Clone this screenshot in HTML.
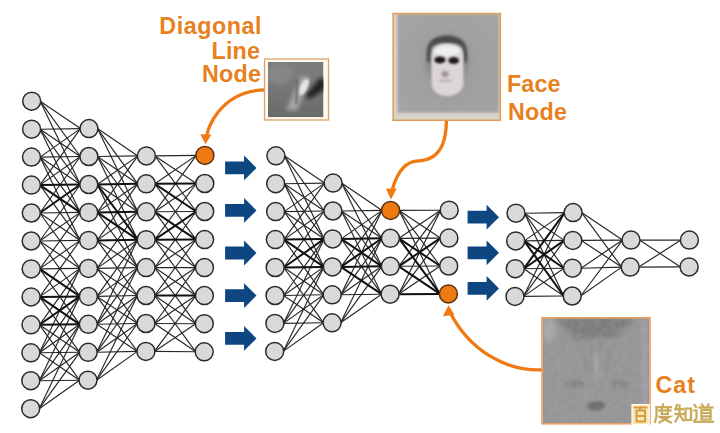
<!DOCTYPE html>
<html><head><meta charset="utf-8"><style>
html,body{margin:0;padding:0;background:#fff;}
body{width:720px;height:433px;overflow:hidden;}
svg{display:block;}
</style></head><body>
<svg width="720" height="433" viewBox="0 0 720 433">
<rect width="720" height="433" fill="#fff"/>
<g stroke="#262626" stroke-width="1.15" fill="none">
<line x1="40.2" y1="101.2" x2="80.5" y2="128.6"/>
<line x1="40.2" y1="101.2" x2="80.4" y2="156.5"/>
<line x1="40.2" y1="101.2" x2="80.3" y2="184.5"/>
<line x1="40.1" y1="129.2" x2="80.5" y2="128.6"/>
<line x1="40.1" y1="129.2" x2="80.4" y2="156.5"/>
<line x1="40.1" y1="129.2" x2="80.3" y2="184.5"/>
<line x1="40.1" y1="129.2" x2="80.2" y2="212.4"/>
<line x1="40.0" y1="157.1" x2="80.5" y2="128.6"/>
<line x1="40.0" y1="157.1" x2="80.4" y2="156.5"/>
<line x1="40.0" y1="157.1" x2="80.3" y2="184.5"/>
<line x1="40.0" y1="157.1" x2="80.2" y2="212.4"/>
<line x1="40.0" y1="157.1" x2="80.1" y2="240.4"/>
<line x1="39.9" y1="185.1" x2="80.5" y2="128.6"/>
<line x1="39.9" y1="185.1" x2="80.4" y2="156.5"/>
<line x1="39.9" y1="185.1" x2="80.1" y2="240.4"/>
<line x1="39.8" y1="213.0" x2="80.4" y2="156.5"/>
<line x1="39.8" y1="213.0" x2="80.2" y2="212.4"/>
<line x1="39.8" y1="213.0" x2="80.1" y2="240.4"/>
<line x1="39.8" y1="213.0" x2="80.0" y2="268.4"/>
<line x1="39.7" y1="241.0" x2="80.3" y2="184.5"/>
<line x1="39.7" y1="241.0" x2="80.2" y2="212.4"/>
<line x1="39.7" y1="241.0" x2="80.1" y2="240.4"/>
<line x1="39.7" y1="241.0" x2="80.0" y2="268.4"/>
<line x1="39.7" y1="241.0" x2="79.9" y2="296.4"/>
<line x1="39.7" y1="268.9" x2="80.2" y2="212.4"/>
<line x1="39.7" y1="268.9" x2="80.1" y2="240.4"/>
<line x1="39.7" y1="268.9" x2="80.0" y2="268.4"/>
<line x1="39.7" y1="268.9" x2="79.8" y2="324.3"/>
<line x1="39.6" y1="296.9" x2="80.1" y2="240.4"/>
<line x1="39.6" y1="296.9" x2="80.0" y2="268.4"/>
<line x1="39.6" y1="296.9" x2="79.7" y2="352.3"/>
<line x1="39.5" y1="324.8" x2="80.0" y2="268.4"/>
<line x1="39.5" y1="324.8" x2="79.7" y2="352.3"/>
<line x1="39.5" y1="324.8" x2="79.5" y2="380.2"/>
<line x1="39.4" y1="352.8" x2="80.0" y2="268.4"/>
<line x1="39.4" y1="352.8" x2="79.9" y2="296.4"/>
<line x1="39.4" y1="352.8" x2="79.8" y2="324.3"/>
<line x1="39.4" y1="352.8" x2="79.7" y2="352.3"/>
<line x1="39.4" y1="352.8" x2="79.5" y2="380.2"/>
<line x1="39.3" y1="380.7" x2="79.9" y2="296.4"/>
<line x1="39.3" y1="380.7" x2="79.8" y2="324.3"/>
<line x1="39.3" y1="380.7" x2="79.7" y2="352.3"/>
<line x1="39.3" y1="380.7" x2="79.5" y2="380.2"/>
<line x1="39.2" y1="408.7" x2="79.8" y2="324.3"/>
<line x1="39.2" y1="408.7" x2="79.7" y2="352.3"/>
<line x1="39.2" y1="408.7" x2="79.5" y2="380.2"/>
<line x1="97.5" y1="128.6" x2="137.9" y2="155.9"/>
<line x1="97.5" y1="128.6" x2="137.8" y2="183.8"/>
<line x1="97.5" y1="128.6" x2="137.8" y2="211.8"/>
<line x1="97.4" y1="156.5" x2="137.9" y2="155.9"/>
<line x1="97.4" y1="156.5" x2="137.8" y2="183.8"/>
<line x1="97.4" y1="156.5" x2="137.8" y2="211.8"/>
<line x1="97.4" y1="156.5" x2="137.7" y2="239.7"/>
<line x1="97.3" y1="184.5" x2="137.9" y2="155.9"/>
<line x1="97.3" y1="184.5" x2="137.8" y2="211.8"/>
<line x1="97.3" y1="184.5" x2="137.6" y2="267.6"/>
<line x1="97.2" y1="212.4" x2="137.9" y2="155.9"/>
<line x1="97.2" y1="212.4" x2="137.8" y2="183.8"/>
<line x1="97.2" y1="212.4" x2="137.6" y2="267.6"/>
<line x1="97.1" y1="240.4" x2="137.8" y2="183.8"/>
<line x1="97.1" y1="240.4" x2="137.8" y2="211.8"/>
<line x1="97.1" y1="240.4" x2="137.6" y2="267.6"/>
<line x1="97.1" y1="240.4" x2="137.5" y2="295.5"/>
<line x1="97.0" y1="268.4" x2="137.8" y2="211.8"/>
<line x1="97.0" y1="268.4" x2="137.7" y2="239.7"/>
<line x1="97.0" y1="268.4" x2="137.6" y2="267.6"/>
<line x1="97.0" y1="268.4" x2="137.5" y2="295.5"/>
<line x1="97.0" y1="268.4" x2="137.5" y2="323.5"/>
<line x1="96.9" y1="296.4" x2="137.7" y2="239.7"/>
<line x1="96.9" y1="296.4" x2="137.6" y2="267.6"/>
<line x1="96.9" y1="296.4" x2="137.5" y2="295.5"/>
<line x1="96.9" y1="296.4" x2="137.5" y2="323.5"/>
<line x1="96.9" y1="296.4" x2="137.4" y2="351.4"/>
<line x1="96.8" y1="324.3" x2="137.7" y2="239.7"/>
<line x1="96.8" y1="324.3" x2="137.6" y2="267.6"/>
<line x1="96.8" y1="324.3" x2="137.5" y2="295.5"/>
<line x1="96.8" y1="324.3" x2="137.5" y2="323.5"/>
<line x1="96.8" y1="324.3" x2="137.4" y2="351.4"/>
<line x1="96.7" y1="352.3" x2="137.6" y2="267.6"/>
<line x1="96.7" y1="352.3" x2="137.5" y2="295.5"/>
<line x1="96.7" y1="352.3" x2="137.5" y2="323.5"/>
<line x1="96.7" y1="352.3" x2="137.4" y2="351.4"/>
<line x1="96.5" y1="380.2" x2="137.5" y2="295.5"/>
<line x1="96.5" y1="380.2" x2="137.5" y2="323.5"/>
<line x1="96.5" y1="380.2" x2="137.4" y2="351.4"/>
<line x1="154.9" y1="155.9" x2="196.4" y2="155.4"/>
<line x1="154.9" y1="155.9" x2="196.3" y2="183.5"/>
<line x1="154.9" y1="155.9" x2="196.2" y2="211.5"/>
<line x1="154.8" y1="183.8" x2="196.4" y2="155.4"/>
<line x1="154.8" y1="183.8" x2="196.1" y2="239.6"/>
<line x1="154.8" y1="211.8" x2="196.4" y2="155.4"/>
<line x1="154.8" y1="211.8" x2="196.3" y2="183.5"/>
<line x1="154.8" y1="211.8" x2="196.2" y2="211.5"/>
<line x1="154.8" y1="211.8" x2="196.0" y2="267.6"/>
<line x1="154.7" y1="239.7" x2="196.3" y2="183.5"/>
<line x1="154.7" y1="239.7" x2="196.0" y2="267.6"/>
<line x1="154.7" y1="239.7" x2="195.9" y2="295.6"/>
<line x1="154.6" y1="267.6" x2="196.2" y2="211.5"/>
<line x1="154.6" y1="267.6" x2="196.1" y2="239.6"/>
<line x1="154.6" y1="267.6" x2="196.0" y2="267.6"/>
<line x1="154.6" y1="267.6" x2="195.9" y2="295.6"/>
<line x1="154.6" y1="267.6" x2="195.8" y2="323.7"/>
<line x1="154.5" y1="295.5" x2="196.1" y2="239.6"/>
<line x1="154.5" y1="295.5" x2="196.0" y2="267.6"/>
<line x1="154.5" y1="295.5" x2="195.8" y2="323.7"/>
<line x1="154.5" y1="295.5" x2="195.8" y2="351.8"/>
<line x1="154.5" y1="323.5" x2="196.0" y2="267.6"/>
<line x1="154.5" y1="323.5" x2="195.9" y2="295.6"/>
<line x1="154.5" y1="323.5" x2="195.8" y2="323.7"/>
<line x1="154.5" y1="323.5" x2="195.8" y2="351.8"/>
<line x1="154.4" y1="351.4" x2="195.9" y2="295.6"/>
<line x1="154.4" y1="351.4" x2="195.8" y2="323.7"/>
<line x1="154.4" y1="351.4" x2="195.8" y2="351.8"/>
<line x1="284.4" y1="155.8" x2="324.6" y2="183.1"/>
<line x1="284.4" y1="155.8" x2="324.4" y2="211.0"/>
<line x1="284.4" y1="155.8" x2="324.2" y2="238.9"/>
<line x1="284.2" y1="183.7" x2="324.6" y2="183.1"/>
<line x1="284.2" y1="183.7" x2="324.4" y2="211.0"/>
<line x1="284.2" y1="183.7" x2="324.2" y2="238.9"/>
<line x1="284.2" y1="183.7" x2="323.9" y2="266.9"/>
<line x1="284.1" y1="211.6" x2="324.6" y2="183.1"/>
<line x1="284.1" y1="211.6" x2="324.4" y2="211.0"/>
<line x1="284.1" y1="211.6" x2="324.2" y2="238.9"/>
<line x1="284.1" y1="211.6" x2="323.9" y2="266.9"/>
<line x1="283.9" y1="239.6" x2="324.6" y2="183.1"/>
<line x1="283.9" y1="239.6" x2="324.4" y2="211.0"/>
<line x1="283.9" y1="239.6" x2="323.8" y2="294.8"/>
<line x1="283.7" y1="267.5" x2="324.4" y2="211.0"/>
<line x1="283.7" y1="267.5" x2="323.8" y2="294.8"/>
<line x1="283.7" y1="267.5" x2="323.6" y2="322.8"/>
<line x1="283.5" y1="295.5" x2="324.2" y2="238.9"/>
<line x1="283.5" y1="295.5" x2="323.9" y2="266.9"/>
<line x1="283.5" y1="295.5" x2="323.8" y2="294.8"/>
<line x1="283.5" y1="295.5" x2="323.6" y2="322.8"/>
<line x1="283.4" y1="323.4" x2="324.2" y2="238.9"/>
<line x1="283.4" y1="323.4" x2="323.9" y2="266.9"/>
<line x1="283.4" y1="323.4" x2="323.8" y2="294.8"/>
<line x1="283.4" y1="323.4" x2="323.6" y2="322.8"/>
<line x1="283.2" y1="351.4" x2="323.9" y2="266.9"/>
<line x1="283.2" y1="351.4" x2="323.8" y2="294.8"/>
<line x1="283.2" y1="351.4" x2="323.6" y2="322.8"/>
<line x1="341.6" y1="183.1" x2="382.1" y2="210.4"/>
<line x1="341.6" y1="183.1" x2="381.9" y2="238.3"/>
<line x1="341.6" y1="183.1" x2="381.8" y2="266.3"/>
<line x1="341.4" y1="211.0" x2="382.1" y2="210.4"/>
<line x1="341.4" y1="211.0" x2="381.9" y2="238.3"/>
<line x1="341.4" y1="211.0" x2="381.8" y2="266.3"/>
<line x1="341.4" y1="211.0" x2="381.6" y2="294.2"/>
<line x1="341.2" y1="238.9" x2="382.1" y2="210.4"/>
<line x1="341.2" y1="238.9" x2="381.6" y2="294.2"/>
<line x1="340.9" y1="266.9" x2="382.1" y2="210.4"/>
<line x1="340.8" y1="294.8" x2="382.1" y2="210.4"/>
<line x1="340.8" y1="294.8" x2="381.9" y2="238.3"/>
<line x1="340.8" y1="294.8" x2="381.8" y2="266.3"/>
<line x1="340.8" y1="294.8" x2="381.6" y2="294.2"/>
<line x1="340.6" y1="322.8" x2="381.9" y2="238.3"/>
<line x1="340.6" y1="322.8" x2="381.8" y2="266.3"/>
<line x1="340.6" y1="322.8" x2="381.6" y2="294.2"/>
<line x1="399.1" y1="210.4" x2="440.7" y2="210.2"/>
<line x1="399.1" y1="210.4" x2="440.4" y2="238.1"/>
<line x1="399.1" y1="210.4" x2="440.2" y2="266.0"/>
<line x1="399.1" y1="210.4" x2="439.9" y2="293.9"/>
<line x1="398.9" y1="238.3" x2="440.7" y2="210.2"/>
<line x1="398.9" y1="238.3" x2="440.4" y2="238.1"/>
<line x1="398.8" y1="266.3" x2="440.7" y2="210.2"/>
<line x1="398.8" y1="266.3" x2="440.2" y2="266.0"/>
<line x1="398.6" y1="294.2" x2="440.7" y2="210.2"/>
<line x1="398.6" y1="294.2" x2="440.4" y2="238.1"/>
<line x1="398.6" y1="294.2" x2="440.2" y2="266.0"/>
<line x1="524.5" y1="213.2" x2="564.6" y2="212.6"/>
<line x1="524.5" y1="213.2" x2="564.3" y2="240.4"/>
<line x1="524.5" y1="213.2" x2="564.0" y2="268.2"/>
<line x1="524.5" y1="213.2" x2="563.7" y2="296.0"/>
<line x1="524.2" y1="240.9" x2="564.6" y2="212.6"/>
<line x1="524.2" y1="240.9" x2="564.3" y2="240.4"/>
<line x1="523.8" y1="268.7" x2="564.0" y2="268.2"/>
<line x1="523.8" y1="268.7" x2="563.7" y2="296.0"/>
<line x1="523.5" y1="296.4" x2="564.6" y2="212.6"/>
<line x1="523.5" y1="296.4" x2="564.3" y2="240.4"/>
<line x1="523.5" y1="296.4" x2="564.0" y2="268.2"/>
<line x1="523.5" y1="296.4" x2="563.7" y2="296.0"/>
<line x1="581.6" y1="212.6" x2="622.5" y2="240.1"/>
<line x1="581.6" y1="212.6" x2="621.7" y2="267.1"/>
<line x1="581.3" y1="240.4" x2="622.5" y2="240.1"/>
<line x1="581.3" y1="240.4" x2="621.7" y2="267.1"/>
<line x1="581.0" y1="268.2" x2="622.5" y2="240.1"/>
<line x1="581.0" y1="268.2" x2="621.7" y2="267.1"/>
<line x1="580.7" y1="296.0" x2="622.5" y2="240.1"/>
<line x1="580.7" y1="296.0" x2="621.7" y2="267.1"/>
<line x1="639.5" y1="240.1" x2="680.9" y2="240.1"/>
<line x1="639.5" y1="240.1" x2="680.6" y2="266.9"/>
<line x1="638.7" y1="267.1" x2="680.9" y2="240.1"/>
<line x1="638.7" y1="267.1" x2="680.6" y2="266.9"/>
</g>
<g stroke="#101010" stroke-width="2.0" fill="none">
<line x1="39.9" y1="185.1" x2="80.3" y2="184.5"/>
<line x1="39.9" y1="185.1" x2="80.2" y2="212.4"/>
<line x1="39.8" y1="213.0" x2="80.3" y2="184.5"/>
<line x1="39.7" y1="268.9" x2="79.9" y2="296.4"/>
<line x1="39.6" y1="296.9" x2="79.9" y2="296.4"/>
<line x1="39.6" y1="296.9" x2="79.8" y2="324.3"/>
<line x1="39.5" y1="324.8" x2="79.9" y2="296.4"/>
<line x1="39.5" y1="324.8" x2="79.8" y2="324.3"/>
<line x1="97.3" y1="184.5" x2="137.8" y2="183.8"/>
<line x1="97.3" y1="184.5" x2="137.7" y2="239.7"/>
<line x1="97.2" y1="212.4" x2="137.8" y2="211.8"/>
<line x1="97.2" y1="212.4" x2="137.7" y2="239.7"/>
<line x1="97.1" y1="240.4" x2="137.7" y2="239.7"/>
<line x1="154.8" y1="183.8" x2="196.3" y2="183.5"/>
<line x1="154.8" y1="183.8" x2="196.2" y2="211.5"/>
<line x1="154.8" y1="211.8" x2="196.1" y2="239.6"/>
<line x1="154.7" y1="239.7" x2="196.2" y2="211.5"/>
<line x1="154.7" y1="239.7" x2="196.1" y2="239.6"/>
<line x1="154.5" y1="295.5" x2="195.9" y2="295.6"/>
<line x1="283.9" y1="239.6" x2="324.2" y2="238.9"/>
<line x1="283.9" y1="239.6" x2="323.9" y2="266.9"/>
<line x1="283.7" y1="267.5" x2="324.2" y2="238.9"/>
<line x1="283.7" y1="267.5" x2="323.9" y2="266.9"/>
<line x1="341.2" y1="238.9" x2="381.9" y2="238.3"/>
<line x1="341.2" y1="238.9" x2="381.8" y2="266.3"/>
<line x1="340.9" y1="266.9" x2="381.9" y2="238.3"/>
<line x1="340.9" y1="266.9" x2="381.8" y2="266.3"/>
<line x1="340.9" y1="266.9" x2="381.6" y2="294.2"/>
<line x1="398.9" y1="238.3" x2="440.2" y2="266.0"/>
<line x1="398.9" y1="238.3" x2="439.9" y2="293.9"/>
<line x1="398.8" y1="266.3" x2="440.4" y2="238.1"/>
<line x1="398.8" y1="266.3" x2="439.9" y2="293.9"/>
<line x1="398.6" y1="294.2" x2="439.9" y2="293.9"/>
<line x1="524.2" y1="240.9" x2="564.0" y2="268.2"/>
<line x1="524.2" y1="240.9" x2="563.7" y2="296.0"/>
<line x1="523.8" y1="268.7" x2="564.6" y2="212.6"/>
<line x1="523.8" y1="268.7" x2="564.3" y2="240.4"/>
</g>
<g stroke="#2a2a2a" stroke-width="1.5">
<circle cx="31.7" cy="101.2" r="9.0" fill="#d9d9d9"/>
<circle cx="31.6" cy="129.2" r="9.0" fill="#d9d9d9"/>
<circle cx="31.5" cy="157.1" r="9.0" fill="#d9d9d9"/>
<circle cx="31.4" cy="185.1" r="9.0" fill="#d9d9d9"/>
<circle cx="31.3" cy="213.0" r="9.0" fill="#d9d9d9"/>
<circle cx="31.2" cy="241.0" r="9.0" fill="#d9d9d9"/>
<circle cx="31.2" cy="268.9" r="9.0" fill="#d9d9d9"/>
<circle cx="31.1" cy="296.9" r="9.0" fill="#d9d9d9"/>
<circle cx="31.0" cy="324.8" r="9.0" fill="#d9d9d9"/>
<circle cx="30.9" cy="352.8" r="9.0" fill="#d9d9d9"/>
<circle cx="30.8" cy="380.7" r="9.0" fill="#d9d9d9"/>
<circle cx="30.7" cy="408.7" r="9.0" fill="#d9d9d9"/>
<circle cx="89.0" cy="128.6" r="9.0" fill="#d9d9d9"/>
<circle cx="88.9" cy="156.5" r="9.0" fill="#d9d9d9"/>
<circle cx="88.8" cy="184.5" r="9.0" fill="#d9d9d9"/>
<circle cx="88.7" cy="212.4" r="9.0" fill="#d9d9d9"/>
<circle cx="88.6" cy="240.4" r="9.0" fill="#d9d9d9"/>
<circle cx="88.5" cy="268.4" r="9.0" fill="#d9d9d9"/>
<circle cx="88.4" cy="296.4" r="9.0" fill="#d9d9d9"/>
<circle cx="88.3" cy="324.3" r="9.0" fill="#d9d9d9"/>
<circle cx="88.2" cy="352.3" r="9.0" fill="#d9d9d9"/>
<circle cx="88.0" cy="380.2" r="9.0" fill="#d9d9d9"/>
<circle cx="146.4" cy="155.9" r="9.0" fill="#d9d9d9"/>
<circle cx="146.3" cy="183.8" r="9.0" fill="#d9d9d9"/>
<circle cx="146.3" cy="211.8" r="9.0" fill="#d9d9d9"/>
<circle cx="146.2" cy="239.7" r="9.0" fill="#d9d9d9"/>
<circle cx="146.1" cy="267.6" r="9.0" fill="#d9d9d9"/>
<circle cx="146.0" cy="295.5" r="9.0" fill="#d9d9d9"/>
<circle cx="146.0" cy="323.5" r="9.0" fill="#d9d9d9"/>
<circle cx="145.9" cy="351.4" r="9.0" fill="#d9d9d9"/>
<circle cx="204.9" cy="155.4" r="9.0" fill="#f07a12" stroke="#5a3010"/>
<circle cx="204.8" cy="183.5" r="9.0" fill="#d9d9d9"/>
<circle cx="204.7" cy="211.5" r="9.0" fill="#d9d9d9"/>
<circle cx="204.6" cy="239.6" r="9.0" fill="#d9d9d9"/>
<circle cx="204.5" cy="267.6" r="9.0" fill="#d9d9d9"/>
<circle cx="204.4" cy="295.6" r="9.0" fill="#d9d9d9"/>
<circle cx="204.3" cy="323.7" r="9.0" fill="#d9d9d9"/>
<circle cx="204.2" cy="351.8" r="9.0" fill="#d9d9d9"/>
<circle cx="275.9" cy="155.8" r="9.0" fill="#d9d9d9"/>
<circle cx="275.7" cy="183.7" r="9.0" fill="#d9d9d9"/>
<circle cx="275.6" cy="211.6" r="9.0" fill="#d9d9d9"/>
<circle cx="275.4" cy="239.6" r="9.0" fill="#d9d9d9"/>
<circle cx="275.2" cy="267.5" r="9.0" fill="#d9d9d9"/>
<circle cx="275.0" cy="295.5" r="9.0" fill="#d9d9d9"/>
<circle cx="274.9" cy="323.4" r="9.0" fill="#d9d9d9"/>
<circle cx="274.7" cy="351.4" r="9.0" fill="#d9d9d9"/>
<circle cx="333.1" cy="183.1" r="9.0" fill="#d9d9d9"/>
<circle cx="332.9" cy="211.0" r="9.0" fill="#d9d9d9"/>
<circle cx="332.7" cy="238.9" r="9.0" fill="#d9d9d9"/>
<circle cx="332.4" cy="266.9" r="9.0" fill="#d9d9d9"/>
<circle cx="332.2" cy="294.8" r="9.0" fill="#d9d9d9"/>
<circle cx="332.1" cy="322.8" r="9.0" fill="#d9d9d9"/>
<circle cx="390.6" cy="210.4" r="9.0" fill="#f07a12" stroke="#5a3010"/>
<circle cx="390.4" cy="238.3" r="9.0" fill="#d9d9d9"/>
<circle cx="390.3" cy="266.3" r="9.0" fill="#d9d9d9"/>
<circle cx="390.1" cy="294.2" r="9.0" fill="#d9d9d9"/>
<circle cx="449.2" cy="210.2" r="9.0" fill="#d9d9d9"/>
<circle cx="448.9" cy="238.1" r="9.0" fill="#d9d9d9"/>
<circle cx="448.7" cy="266.0" r="9.0" fill="#d9d9d9"/>
<circle cx="448.4" cy="293.9" r="9.0" fill="#f07a12" stroke="#5a3010"/>
<circle cx="516.0" cy="213.2" r="9.0" fill="#d9d9d9"/>
<circle cx="515.7" cy="240.9" r="9.0" fill="#d9d9d9"/>
<circle cx="515.3" cy="268.7" r="9.0" fill="#d9d9d9"/>
<circle cx="515.0" cy="296.4" r="9.0" fill="#d9d9d9"/>
<circle cx="573.1" cy="212.6" r="9.0" fill="#d9d9d9"/>
<circle cx="572.8" cy="240.4" r="9.0" fill="#d9d9d9"/>
<circle cx="572.5" cy="268.2" r="9.0" fill="#d9d9d9"/>
<circle cx="572.2" cy="296.0" r="9.0" fill="#d9d9d9"/>
<circle cx="631.0" cy="240.1" r="9.0" fill="#d9d9d9"/>
<circle cx="630.2" cy="267.1" r="9.0" fill="#d9d9d9"/>
<circle cx="689.4" cy="240.1" r="9.0" fill="#d9d9d9"/>
<circle cx="689.1" cy="266.9" r="9.0" fill="#d9d9d9"/>
</g>
<g fill="#0e4682">
<path d="M225.1 161.5 H244.1 V155.5 L256.5 167.9 L244.1 180.3 V174.3 H225.1 Z"/>
<path d="M225.1 204.0 H244.1 V198.0 L256.5 210.4 L244.1 222.8 V216.8 H225.1 Z"/>
<path d="M225.1 246.6 H244.1 V240.6 L256.5 253.0 L244.1 265.4 V259.4 H225.1 Z"/>
<path d="M225.1 289.2 H244.1 V283.2 L256.5 295.6 L244.1 308.0 V302.0 H225.1 Z"/>
<path d="M225.1 332.0 H244.1 V326.0 L256.5 338.4 L244.1 350.8 V344.8 H225.1 Z"/>
<path d="M467.6 210.8 H486.6 V204.8 L499.0 217.2 L486.6 229.6 V223.6 H467.6 Z"/>
<path d="M467.6 246.4 H486.6 V240.4 L499.0 252.8 L486.6 265.2 V259.2 H467.6 Z"/>
<path d="M467.6 282.0 H486.6 V276.0 L499.0 288.4 L486.6 300.8 V294.8 H467.6 Z"/>
</g>
<g stroke="#f07a12" stroke-width="3.3" fill="none" stroke-linecap="butt">
<path d="M264.5 89.9 C219.5 91.2 206.7 130.5 207.3 135"/>
<path d="M446.4 120.5 C446.1 122.7 448.7 159.8 419 160.8 C400.5 160.6 394 183.4 392.2 190"/>
<path d="M542 369.8 C503.8 371.3 469.1 348.9 450.3 313"/>
</g>
<g fill="#f07a12">
<path d="M200.3 134.2 L211.4 134.6 L205.5 144.2 Z"/>
<path d="M386 188.8 L396.8 188.5 L390.9 199.4 Z"/>
<path d="M442.9 316.3 L454.6 314.8 L448.5 305.2 Z"/>
</g>
<g font-family="Liberation Sans, sans-serif" font-weight="bold" font-size="23.3" fill="#e8801e">
<text x="159.30" y="34.30" letter-spacing="0.55">Diagonal</text>
<text x="211.50" y="58.60" letter-spacing="0.20">Line</text>
<text x="201.90" y="82.20" letter-spacing="0.30">Node</text>
<text x="507.00" y="91.60" letter-spacing="0.10">Face</text>
<text x="507.90" y="119.60" letter-spacing="0.30">Node</text>
<text x="655.40" y="392.50" letter-spacing="1.10">Cat</text>
</g>
<g>
<defs>
<filter id="bl2" x="-50%" y="-50%" width="200%" height="200%"><feGaussianBlur stdDeviation="2"/></filter>
<filter id="bl1" x="-50%" y="-50%" width="200%" height="200%"><feGaussianBlur stdDeviation="1.2"/></filter>
<clipPath id="dclip"><rect x="268" y="62" width="55.5" height="55.3"/></clipPath>
<linearGradient id="dbase" x1="0" y1="0" x2="0" y2="1">
<stop offset="0" stop-color="#7c7c7c"/><stop offset="0.5" stop-color="#767676"/><stop offset="1" stop-color="#6a6a6a"/>
</linearGradient>
</defs>
<rect x="264.5" y="59" width="64" height="61" fill="#fffaf0" stroke="#d9a26a" stroke-width="1.3"/>
<g clip-path="url(#dclip)">
<rect x="268" y="62" width="55.5" height="55.3" fill="url(#dbase)"/>
<ellipse cx="280" cy="74" rx="14" ry="10" fill="#868686" filter="url(#bl2)"/>
<path d="M305 96 L320 78 L325 79 L325 89 L310 99 Z" fill="#222" filter="url(#bl2)"/>
<path d="M286 110 L301 76 L310 77 L297 111 Z" fill="#a4a4a4" filter="url(#bl2)"/>
<ellipse cx="304" cy="87" rx="3.6" ry="9" transform="rotate(25 304 87)" fill="#e6e6e6" filter="url(#bl1)"/>
<path d="M296.5 80 L298 80 L297 104 L295.5 104 Z" fill="#585858" filter="url(#bl1)"/>
</g>
</g>

<g>
<defs>
<filter id="fb3" x="-50%" y="-50%" width="200%" height="200%"><feGaussianBlur stdDeviation="3"/></filter>
<filter id="fb15" x="-50%" y="-50%" width="200%" height="200%"><feGaussianBlur stdDeviation="1.5"/></filter>
<filter id="fb1" x="-50%" y="-50%" width="200%" height="200%"><feGaussianBlur stdDeviation="0.9"/></filter>
<clipPath id="fclip"><rect x="393.5" y="13.5" width="107.5" height="106.5"/></clipPath>
<radialGradient id="fbg" cx="0.5" cy="0.55" r="0.65">
<stop offset="0" stop-color="#999999"/><stop offset="1" stop-color="#a2a2a2"/>
</radialGradient>
</defs>
<g clip-path="url(#fclip)">
<rect x="393" y="13" width="108" height="107.5" fill="#d9d3ca"/>
<rect x="397.5" y="14" width="101.5" height="98.5" fill="url(#fbg)" filter="url(#fb1)"/>
<rect x="397.5" y="14" width="101.5" height="98.5" filter="url(#ctex)" opacity="0.5"/>
<ellipse cx="447" cy="62" rx="21" ry="24" fill="#868686" filter="url(#fb3)"/>
<path d="M427 52 C427 40 437 35.5 447 35.5 C457 35.5 467 40 467 52 L467 62 L463 62 L463 48 C460 44 455 43 447 43 C439 43 434 44 431 48 L431 62 L427 62 Z" fill="#4a4a4a" filter="url(#fb15)"/>
<path d="M431.3 57 C431.3 47 437 43.5 447 43.5 C457 43.5 463.5 47 463.5 57 L463.5 84 C463 91 456 96 447 96 C438 96 432 91 431.5 84 Z" fill="#dcd6d6" filter="url(#fb1)"/>
<ellipse cx="447" cy="51" rx="13" ry="5" fill="#f0f0f0" filter="url(#fb15)"/>
<ellipse cx="439.9" cy="59.9" rx="5.6" ry="3.5" fill="#141414" filter="url(#fb1)"/>
<ellipse cx="453.7" cy="60.6" rx="5.4" ry="3.5" fill="#1e1e1a" filter="url(#fb1)"/>
<ellipse cx="445" cy="74" rx="3.5" ry="3" fill="#988890" filter="url(#fb15)"/>
<ellipse cx="445.5" cy="80.8" rx="7.5" ry="1.5" fill="#bcb2b2" filter="url(#fb1)"/>
</g>
<rect x="393.1" y="13.5" width="107.2" height="106.8" fill="none" stroke="#e39a55" stroke-width="1.5"/>
</g>

<g>
<defs>
<clipPath id="cclip"><rect x="542.5" y="318" width="107" height="105.5"/></clipPath>
<filter id="cb3" x="-50%" y="-50%" width="200%" height="200%"><feGaussianBlur stdDeviation="3"/></filter>
<filter id="cb2" x="-50%" y="-50%" width="200%" height="200%"><feGaussianBlur stdDeviation="1.8"/></filter>
<filter id="ctex" x="0" y="0" width="100%" height="100%">
<feTurbulence type="fractalNoise" baseFrequency="0.18" numOctaves="2" seed="3" result="n"/>
<feColorMatrix in="n" type="matrix" values="0 0 0 0 0.5  0 0 0 0 0.5  0 0 0 0 0.5  0 0 0 0.35 0"/>
</filter>
</defs>
<g clip-path="url(#cclip)">
<rect x="542" y="318" width="108" height="106" fill="#929292"/>
<path d="M553 317 L636 317 L616 337 L576 339 Z" fill="#767676" filter="url(#cb3)"/>


<ellipse cx="549" cy="330" rx="7" ry="12" fill="#a8a8a8" filter="url(#cb3)"/>
<ellipse cx="575" cy="384" rx="10" ry="4" fill="#808080" filter="url(#cb2)"/>
<ellipse cx="620" cy="384" rx="10" ry="4" fill="#828282" filter="url(#cb2)"/>
<ellipse cx="596" cy="406" rx="9" ry="4.5" fill="#626262" filter="url(#cb2)"/>
<ellipse cx="597" cy="365" rx="4" ry="14" fill="#a4a4a4" filter="url(#cb3)"/>
<rect x="641" y="318" width="7" height="106" fill="#a09aa8" filter="url(#cb2)" opacity="0.8"/>
<rect x="542" y="318" width="108" height="106" filter="url(#ctex)" opacity="0.85"/>
<path d="M590 345 L592 345 L593 375 L591 375 Z M600 342 L602 342 L601 372 L599 372 Z M583 350 L585 350 L588 372 L586 372 Z M608 350 L610 350 L607 372 L605 372 Z" fill="#7a7a7a" filter="url(#cb2)" opacity="0.45"/>
</g>
<rect x="542" y="317.8" width="108" height="106" fill="none" stroke="#eba060" stroke-width="1.6"/>
</g>

<g>
<rect x="632" y="404.6" width="17.2" height="20" fill="#f6e8bc" stroke="#fffdf0" stroke-width="1.2"/>
<g fill="none" stroke="#dc9c3c" stroke-width="2" stroke-linecap="square">
<path d="M634.5 407.5 H646.5"/>
<path d="M640.5 407.5 L639.5 410"/>
<path d="M636.5 410.5 H645 V421.5 H636.5 Z"/>
<path d="M637 416 H644.5"/>
</g>
<g fill="none" stroke="#c9aa58" stroke-width="2.2" stroke-linecap="square">
<path d="M663 404.5 V406.5"/>
<path d="M656.5 407.2 H671"/>
<path d="M656.5 407.5 V416 L655 422"/>
<path d="M659 410.5 H670.5"/>
<path d="M661.8 408.5 V414 H667.8 V408.5"/>
<path d="M659.5 416.8 H669.5 L659.5 422.5"/>
<path d="M661.5 417.8 L670.8 422.5"/>
<path d="M677 405 L675.5 409"/>
<path d="M675.5 409.2 H683"/>
<path d="M675.5 414 H684"/>
<path d="M679.5 405.5 V414"/>
<path d="M679.3 414.5 L675.5 421.5"/>
<path d="M679.8 415 L683.5 420.5"/>
<path d="M685.5 408.5 H691 V420 H685.5 Z"/>
<path d="M694.5 405 L696 407"/>
<path d="M693.8 410.5 H696.5 V418.5 L694 421"/>
<path d="M695 421.8 H713"/>
<path d="M702 404.5 L703 406 M708.5 404.5 L707.5 406"/>
<path d="M699.5 407.5 H712.5"/>
<path d="M701.5 409.8 H710.5 V419.5 H701.5 Z"/>
<path d="M701.8 413 H710.5 M701.8 416.3 H710.5"/>
</g>
</g>

</svg>
</body></html>
